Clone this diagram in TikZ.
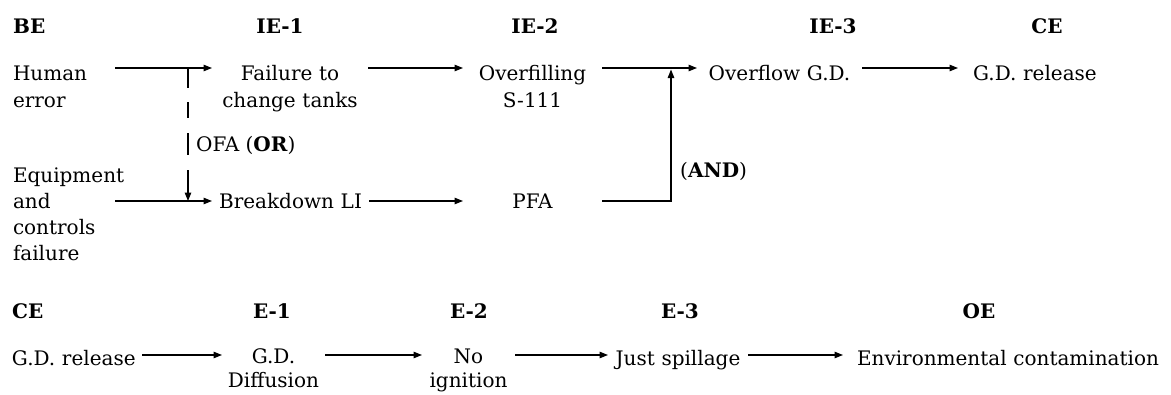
\documentclass[tikz,border=0pt]{standalone}
\usepackage{fontspec}
\setmainfont{DejaVu Serif}
\usetikzlibrary{arrows.meta,calc}
\begin{document}
\begin{tikzpicture}[x=1pt,y=-1pt,
  txt/.style={inner sep=0pt, outer sep=0pt, font=\fontsize{20}{27}\selectfont,
              execute at begin node={\noindent\strut}},
  box/.style={txt, anchor=north west, align=center, text width=#1},
  lbox/.style={txt, anchor=north west, align=left, text width=#1},
  head/.style={inner sep=0pt, font=\fontsize{20}{27}\selectfont\bfseries, anchor=base},
  lab/.style={inner sep=0pt, font=\fontsize{20}{27}\selectfont, anchor=base west},
  tip/.style={-{Triangle[length=8.5pt,width=6.5pt]}},
  arr/.style={line width=1.2pt, tip},
  orline/.style={line width=1.2pt, tip,
                 dash pattern=on 20pt off 14pt on 16pt off 15pt on 22pt off 15pt on 40pt off 1pt},
]
\useasboundingbox (0,0) rectangle (1171,394);

% ---------- upper chain: basic events to the critical event ----------
\node[head, anchor=base west] (hBE) at (13,33) {BE};
\node[head] (hIE1) at (280,33) {IE-1};
\node[head] (hIE2) at (535,33) {IE-2};
\node[head] (hIE3) at (833,33) {IE-3};
\node[head] (hCE1) at (1047,33) {CE};

\node[lbox=102pt] (hum)  at (13,61.1)  {Human\\error};
\node[box=156pt]  (fail) at (212,61.1) {Failure to\\change tanks};
\node[box=139pt]  (over) at (463,61.1) {Overfilling\\S-111};
\node[box=165pt]  (ofl)  at (697,61.1) {Overflow G.D.};
\node[box=154pt]  (rel)  at (958,61.1) {G.D. release};

\node[lbox=112pt, font=\fontsize{20}{26}\selectfont] (equip) at (13,163.8)
     {Equipment\\and\\controls\\failure};
\node[box=157pt]  (brk)  at (212,189.1) {Breakdown LI};
\node[box=139pt]  (pfa)  at (463,189.1) {PFA};

\draw[arr] ([yshift=-6.9pt]hum.north east)  -- ([yshift=-6.9pt]fail.north west);
\draw[arr] ([yshift=-6.9pt]fail.north east) -- ([yshift=-6.9pt]over.north west);
\draw[arr] ([yshift=-6.9pt]over.north east) -- ([yshift=-6.9pt]ofl.north west);
\draw[arr] ([yshift=-6.9pt]ofl.north east)  -- ([yshift=-6.9pt]rel.north west);

\draw[arr] ([xshift=-10pt,yshift=-37.2pt]equip.north east) -- ([yshift=-11.9pt]brk.north west);
\draw[arr] ([yshift=-11.9pt]brk.north east) -- ([yshift=-11.9pt]pfa.north west);

% OR gate: dashed drop from the human-error line onto the breakdown line
\coordinate (orA) at (188,68);
\coordinate (orB) at (188,201);
\draw[orline] (orA) -- (orB);
\node[lab] (orlab) at (196,151) {OFA (\textbf{OR})};

% AND gate: PFA joins the overfilling line
\coordinate (andjoin) at (671,69.5);
\draw[arr] ([yshift=-11.9pt]pfa.north east) -| (andjoin);
\node[lab] (andlab) at (680,177) {(\textbf{AND})};

% ---------- lower chain: critical event to the outcome ----------
\node[head, anchor=base west] (hCE2) at (12,318) {CE};
\node[head] (hE1) at (272,318) {E-1};
\node[head] (hE2) at (469,318) {E-2};
\node[head] (hE3) at (680,318) {E-3};
\node[head] (hOE) at (979,318) {OE};

\node[lbox=130pt] (rel2) at (12,346.1)  {G.D. release};
\node[box=103pt, font=\fontsize{20}{24.5}\selectfont] (dif)  at (222,346.1) {G.D.\\Diffusion};
\node[box=93pt, font=\fontsize{20}{24.5}\selectfont]  (noig) at (422,346.1) {No\\ignition};
\node[box=140pt]  (just) at (608,346.1) {Just spillage};
\node[box=330pt]  (env)  at (843,346.1) {Environmental contamination};

\draw[arr] ([yshift=-8.9pt]rel2.north east) -- ([yshift=-8.9pt]dif.north west);
\draw[arr] ([yshift=-8.9pt]dif.north east)  -- ([yshift=-8.9pt]noig.north west);
\draw[arr] ([yshift=-8.9pt]noig.north east) -- ([yshift=-8.9pt]just.north west);
\draw[arr] ([yshift=-8.9pt]just.north east) -- ([yshift=-8.9pt]env.north west);
\end{tikzpicture}
\end{document}
